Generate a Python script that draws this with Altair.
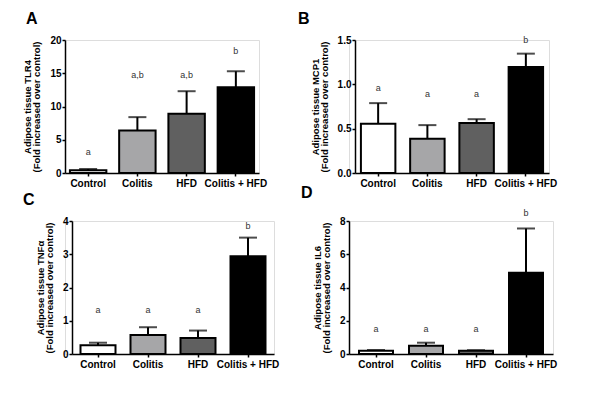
import altair as alt
import pandas as pd

FONT = "Liberation Sans"

groups = ["Control", "Colitis", "HFD", "Colitis + HFD"]
fills = ["#ffffff", "#a6a6a8", "#606060", "#000000"]

tlr4_mean = [0.4, 6.4, 8.9, 12.9]
tlr4_sem = [0.2, 2.0, 3.4, 2.4]
tlr4_letters = ["a", "a,b", "a,b", "b"]
tlr4_letter_y = [3.1, 14.7, 14.7, 18.3]

mcp1_mean = [0.555, 0.385, 0.565, 1.195]
mcp1_sem = [0.233, 0.155, 0.042, 0.151]
mcp1_letters = ["a", "a", "a", "b"]
mcp1_letter_y = [0.957, 0.893, 0.893, 1.496]

tnf_mean = [0.26, 0.575, 0.48, 2.94]
tnf_sem = [0.08, 0.23, 0.225, 0.56]
tnf_letters = ["a", "a", "a", "b"]
tnf_letter_y = [1.33, 1.33, 1.33, 3.84]

il6_mean = [0.2, 0.5, 0.2, 4.89]
il6_sem = [0.04, 0.18, 0.03, 2.66]
il6_letters = ["a", "a", "a", "b"]
il6_letter_y = [1.48, 1.48, 1.48, 8.5]


def panel(letter, title_lines, mean, sem, letters, letter_y, domain, ticks, fmt,
          width, xrange=None, yoffset=0, title_dx=-40, pin=0.3, pout=0.12):
    df = pd.DataFrame({
        "group": groups,
        "mean": mean,
        "top": [m + s for m, s in zip(mean, sem)],
        "lab": letters,
        "lab_y": letter_y,
    })
    xscale = alt.Scale(domain=groups, paddingInner=pin, paddingOuter=pout)
    if xrange is not None:
        xscale = alt.Scale(domain=groups, paddingInner=pin, paddingOuter=pout, range=xrange)
    x = alt.X("group:N", sort=groups, scale=xscale,
              axis=alt.Axis(title=None, labelAngle=0, labelFont=FONT, labelFontSize=10,
                            labelFontWeight="bold", labelColor="black", labelPadding=2,
                            tickSize=3, tickColor="black", tickWidth=1.5,
                            domainColor="black", domainWidth=1.5))
    yscale = alt.Scale(domain=domain, nice=False, zero=True)
    yaxis = alt.Axis(values=ticks, format=fmt, title=title_lines, titleFont=FONT,
                     titleFontSize=9.5, titleFontWeight="bold", titleColor="black",
                     titleLineHeight=9, titlePadding=8, offset=yoffset,
                     labelFont=FONT, labelFontSize=10, labelFontWeight="bold",
                     labelColor="black", labelPadding=1, tickSize=3, tickColor="black",
                     tickWidth=1.5, domainColor="black", domainWidth=1.5, grid=False,
                     labelOverlap=False, tickCount=len(ticks))
    base = alt.Chart(df)
    err = base.mark_rule(color="black", strokeWidth=2).encode(
        x=x, y=alt.Y("mean:Q", scale=yscale, axis=yaxis), y2="top:Q")
    cap = base.mark_tick(color="black", size=18, thickness=2, orient="horizontal").encode(
        x=x, y=alt.Y("top:Q", scale=yscale, axis=yaxis))
    bars = base.mark_bar(stroke="black", strokeWidth=2).encode(
        x=x, y=alt.Y("mean:Q", scale=yscale, axis=yaxis),
        color=alt.Color("group:N", scale=alt.Scale(domain=groups, range=fills), legend=None))
    text = base.mark_text(font=FONT, fontSize=9, color="#333333", baseline="middle").encode(
        x=x, y=alt.Y("lab_y:Q", scale=yscale, axis=yaxis), text="lab:N")
    return alt.layer(err, cap, bars, text).properties(
        width=width, height=133,
        title=alt.TitleParams(letter, anchor="start", frame="group", font=FONT,
                              fontSize=16, fontWeight="bold", color="black",
                              dx=title_dx, offset=8))


pA = panel("A", ["Adipose tissue TLR4", "(Fold increased over control)"],
           tlr4_mean, tlr4_sem, tlr4_letters, tlr4_letter_y, [0, 20], [0, 5, 10, 15, 20], "d",
           width=194, title_dx=-39, pin=0.26, pout=0.1)
pB = panel("B", ["Adipose tissue MCP1", "(Fold increased over control)"],
           mcp1_mean, mcp1_sem, mcp1_letters, mcp1_letter_y, [0, 1.5], [0, 0.5, 1.0, 1.5], ".1f",
           width=200, xrange=[6, 200], yoffset=-6, title_dx=-51, pin=0.3, pout=0.12)
pC = panel("C", ["Adipose tissue TNF\u03b1", "(Fold increased over control)"],
           tnf_mean, tnf_sem, tnf_letters, tnf_letter_y, [0, 4], [0, 1, 2, 3, 4], "d",
           width=209, xrange=[7, 209], yoffset=-7, title_dx=-42, pin=0.3, pout=0.17)
pD = panel("D", ["Adipose tissue IL6", "(Fold increased over control)"],
           il6_mean, il6_sem, il6_letters, il6_letter_y, [0, 8], [0, 2, 4, 6, 8], "d",
           width=204, title_dx=-48, pin=0.32, pout=0.2)

chart = alt.concat(pA, pB, pC, pD, columns=2, spacing={"row": 48, "column": 75},
                   bounds="flush", align="all").properties(
    padding={"left": 14, "top": 2, "right": 0, "bottom": 0}
).configure_view(stroke=None).configure(background="white")

chart.save("out.html", embed_options={"renderer": "svg", "actions": False})
